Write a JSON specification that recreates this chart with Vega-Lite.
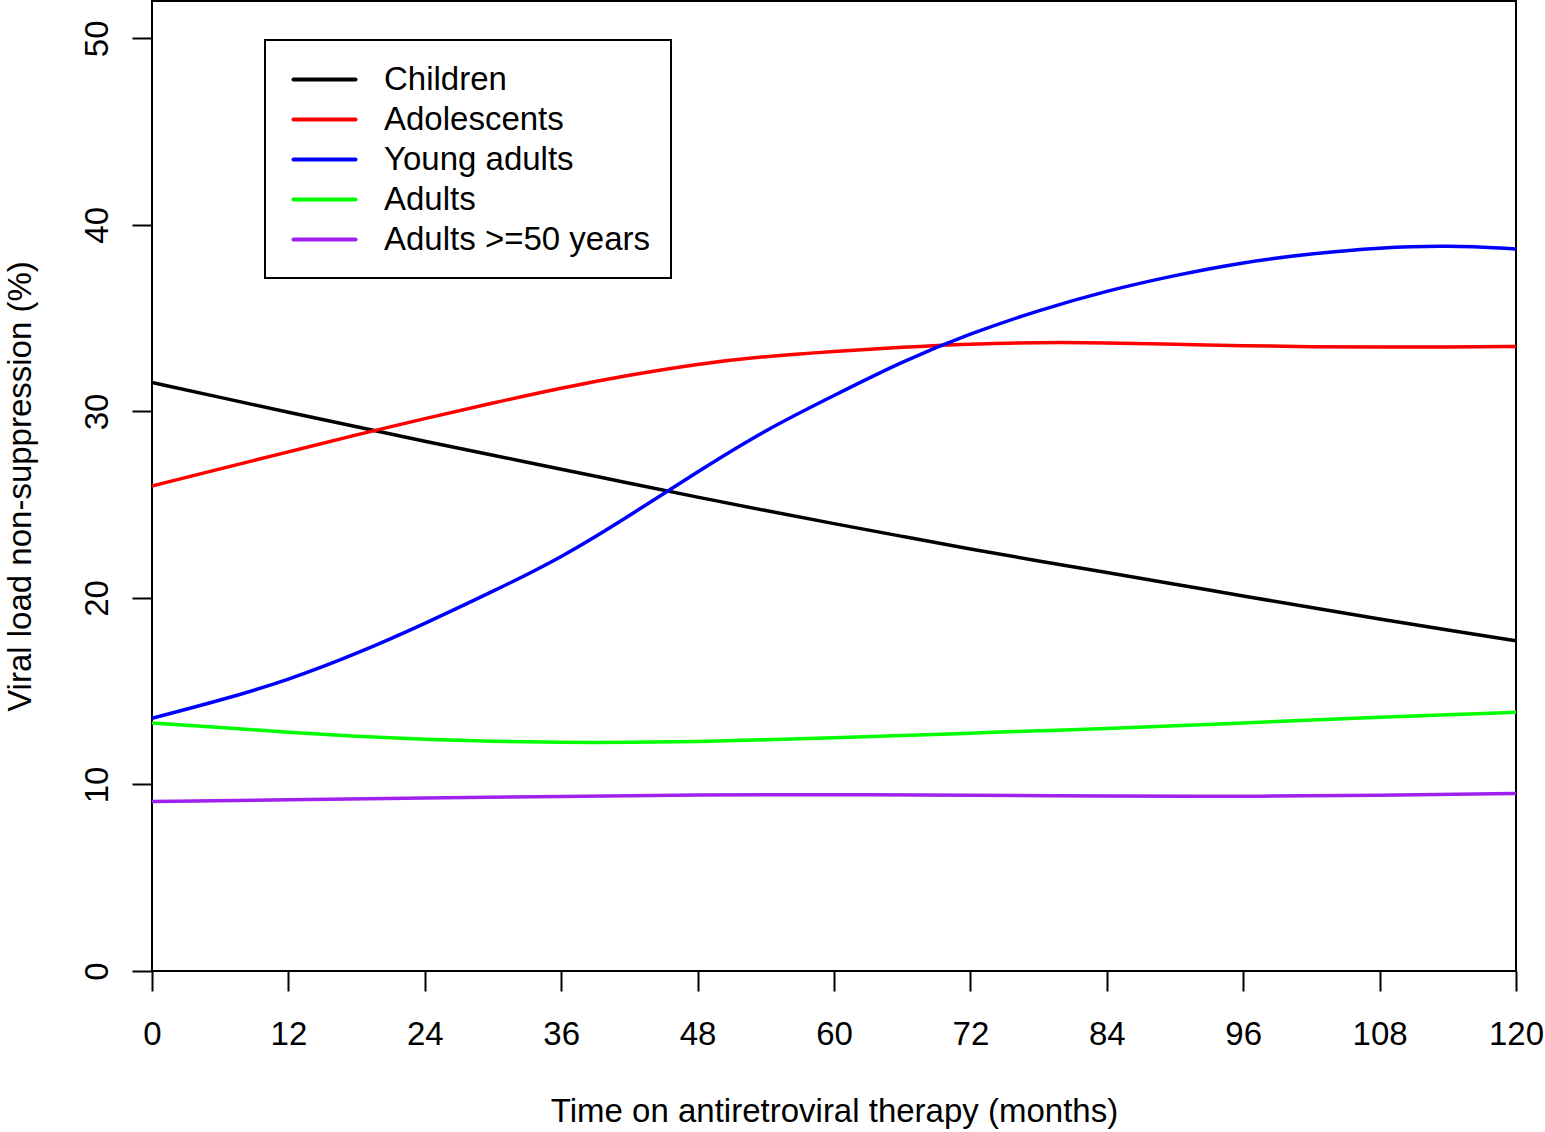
{
  "$schema": "https://vega.github.io/schema/vega-lite/v6.json",
  "width": 1364,
  "height": 970,
  "autosize": {"type": "none"},
  "padding": {"left": 152, "top": 1, "right": 29, "bottom": 161},
  "background": "white",
  "config": {
    "view": {"stroke": "black", "strokeWidth": 2},
    "font": "Liberation Sans",
    "axis": {
      "domain": false,
      "grid": false,
      "tickColor": "black",
      "tickWidth": 2,
      "tickSize": 20,
      "labelFont": "Liberation Sans",
      "labelFontSize": 33,
      "labelColor": "black",
      "titleFont": "Liberation Sans",
      "titleFontSize": 33,
      "titleFontWeight": "normal",
      "titleColor": "black"
    }
  },
  "data": {
    "values": [
      {"group": "Children", "month": 0, "pct": 31.55},
      {"group": "Children", "month": 6, "pct": 30.75},
      {"group": "Children", "month": 12, "pct": 29.95},
      {"group": "Children", "month": 18, "pct": 29.17},
      {"group": "Children", "month": 24, "pct": 28.4},
      {"group": "Children", "month": 30, "pct": 27.65},
      {"group": "Children", "month": 36, "pct": 26.9},
      {"group": "Children", "month": 42, "pct": 26.15},
      {"group": "Children", "month": 48, "pct": 25.4},
      {"group": "Children", "month": 54, "pct": 24.68},
      {"group": "Children", "month": 60, "pct": 23.98},
      {"group": "Children", "month": 66, "pct": 23.3},
      {"group": "Children", "month": 72, "pct": 22.62},
      {"group": "Children", "month": 78, "pct": 21.98},
      {"group": "Children", "month": 84, "pct": 21.36},
      {"group": "Children", "month": 90, "pct": 20.74},
      {"group": "Children", "month": 96, "pct": 20.1},
      {"group": "Children", "month": 102, "pct": 19.48},
      {"group": "Children", "month": 108, "pct": 18.87},
      {"group": "Children", "month": 114, "pct": 18.28},
      {"group": "Children", "month": 120, "pct": 17.7},
      {"group": "Adolescents", "month": 0, "pct": 26.0},
      {"group": "Adolescents", "month": 6, "pct": 26.92},
      {"group": "Adolescents", "month": 12, "pct": 27.83},
      {"group": "Adolescents", "month": 18, "pct": 28.75},
      {"group": "Adolescents", "month": 24, "pct": 29.62},
      {"group": "Adolescents", "month": 30, "pct": 30.45},
      {"group": "Adolescents", "month": 36, "pct": 31.26},
      {"group": "Adolescents", "month": 42, "pct": 31.95},
      {"group": "Adolescents", "month": 48, "pct": 32.55},
      {"group": "Adolescents", "month": 54, "pct": 32.96},
      {"group": "Adolescents", "month": 60, "pct": 33.22},
      {"group": "Adolescents", "month": 66, "pct": 33.45},
      {"group": "Adolescents", "month": 72, "pct": 33.62},
      {"group": "Adolescents", "month": 78, "pct": 33.7},
      {"group": "Adolescents", "month": 84, "pct": 33.68},
      {"group": "Adolescents", "month": 90, "pct": 33.6},
      {"group": "Adolescents", "month": 96, "pct": 33.52},
      {"group": "Adolescents", "month": 102, "pct": 33.46},
      {"group": "Adolescents", "month": 108, "pct": 33.44},
      {"group": "Adolescents", "month": 114, "pct": 33.45},
      {"group": "Adolescents", "month": 120, "pct": 33.48},
      {"group": "Young adults", "month": 0, "pct": 13.55},
      {"group": "Young adults", "month": 6, "pct": 14.5},
      {"group": "Young adults", "month": 12, "pct": 15.6},
      {"group": "Young adults", "month": 18, "pct": 17.0},
      {"group": "Young adults", "month": 24, "pct": 18.62},
      {"group": "Young adults", "month": 30, "pct": 20.35},
      {"group": "Young adults", "month": 36, "pct": 22.15},
      {"group": "Young adults", "month": 42, "pct": 24.4},
      {"group": "Young adults", "month": 48, "pct": 26.77},
      {"group": "Young adults", "month": 54, "pct": 29.02},
      {"group": "Young adults", "month": 60, "pct": 30.85},
      {"group": "Young adults", "month": 66, "pct": 32.68},
      {"group": "Young adults", "month": 72, "pct": 34.18},
      {"group": "Young adults", "month": 78, "pct": 35.42},
      {"group": "Young adults", "month": 84, "pct": 36.47},
      {"group": "Young adults", "month": 90, "pct": 37.3},
      {"group": "Young adults", "month": 96, "pct": 38.0},
      {"group": "Young adults", "month": 102, "pct": 38.46},
      {"group": "Young adults", "month": 108, "pct": 38.78},
      {"group": "Young adults", "month": 114, "pct": 38.9},
      {"group": "Young adults", "month": 120, "pct": 38.71},
      {"group": "Adults", "month": 0, "pct": 13.3},
      {"group": "Adults", "month": 6, "pct": 13.05},
      {"group": "Adults", "month": 12, "pct": 12.8},
      {"group": "Adults", "month": 18, "pct": 12.58},
      {"group": "Adults", "month": 24, "pct": 12.42},
      {"group": "Adults", "month": 30, "pct": 12.3},
      {"group": "Adults", "month": 36, "pct": 12.25},
      {"group": "Adults", "month": 42, "pct": 12.25},
      {"group": "Adults", "month": 48, "pct": 12.3},
      {"group": "Adults", "month": 54, "pct": 12.4},
      {"group": "Adults", "month": 60, "pct": 12.5},
      {"group": "Adults", "month": 66, "pct": 12.62},
      {"group": "Adults", "month": 72, "pct": 12.75},
      {"group": "Adults", "month": 78, "pct": 12.88},
      {"group": "Adults", "month": 84, "pct": 13.0},
      {"group": "Adults", "month": 90, "pct": 13.15},
      {"group": "Adults", "month": 96, "pct": 13.3},
      {"group": "Adults", "month": 102, "pct": 13.45},
      {"group": "Adults", "month": 108, "pct": 13.6},
      {"group": "Adults", "month": 114, "pct": 13.73},
      {"group": "Adults", "month": 120, "pct": 13.87},
      {"group": "Adults >=50 years", "month": 0, "pct": 9.08},
      {"group": "Adults >=50 years", "month": 12, "pct": 9.18},
      {"group": "Adults >=50 years", "month": 24, "pct": 9.27},
      {"group": "Adults >=50 years", "month": 36, "pct": 9.36},
      {"group": "Adults >=50 years", "month": 48, "pct": 9.44},
      {"group": "Adults >=50 years", "month": 60, "pct": 9.46},
      {"group": "Adults >=50 years", "month": 72, "pct": 9.42},
      {"group": "Adults >=50 years", "month": 84, "pct": 9.38},
      {"group": "Adults >=50 years", "month": 96, "pct": 9.36},
      {"group": "Adults >=50 years", "month": 108, "pct": 9.41},
      {"group": "Adults >=50 years", "month": 120, "pct": 9.52}
    ]
  },
  "mark": {"type": "line", "strokeWidth": 3.5, "strokeCap": "round", "interpolate": "basis", "clip": true},
  "encoding": {
    "x": {
      "field": "month",
      "type": "quantitative",
      "scale": {"domain": [0, 120], "nice": false, "zero": false},
      "axis": {
        "values": [0, 12, 24, 36, 48, 60, 72, 84, 96, 108, 120],
        "title": "Time on antiretroviral therapy (months)",
        "labelPadding": 27,
        "titlePadding": 44,
        "labelFlush": false,
        "labelOverlap": false
      }
    },
    "y": {
      "field": "pct",
      "type": "quantitative",
      "scale": {"domain": [0, 52], "nice": false, "zero": true},
      "axis": {
        "values": [0, 10, 20, 30, 40, 50],
        "title": "Viral load non-suppression (%)",
        "labelAngle": -90,
        "labelAlign": "center",
        "labelBaseline": "alphabetic",
        "labelPadding": 25,
        "titlePadding": 44,
        "labelFlush": false,
        "labelOverlap": false
      }
    },
    "color": {
      "field": "group",
      "type": "nominal",
      "scale": {
        "domain": ["Children", "Adolescents", "Young adults", "Adults", "Adults >=50 years"],
        "range": ["#000000", "#FF0000", "#0000FF", "#00FF00", "#A020F0"]
      },
      "legend": {
        "title": null,
        "orient": "none",
        "legendX": 113,
        "legendY": 39,
        "direction": "vertical",
        "symbolType": "M-1.88,0H1.88",
        "symbolSize": 1089,
        "symbolStrokeWidth": 4,
        "symbolOffset": 20,
        "labelFont": "Liberation Sans",
        "labelFontSize": 33,
        "labelColor": "black",
        "labelOffset": 41,
        "labelLimit": 0,
        "rowPadding": 4,
        "padding": 21,
        "strokeColor": "black",
        "fillColor": "white",
        "encode": {
          "legend": {"update": {"strokeWidth": {"value": 2}}},
          "symbols": {"update": {"strokeCap": {"value": "round"}}}
        }
      }
    }
  }
}
